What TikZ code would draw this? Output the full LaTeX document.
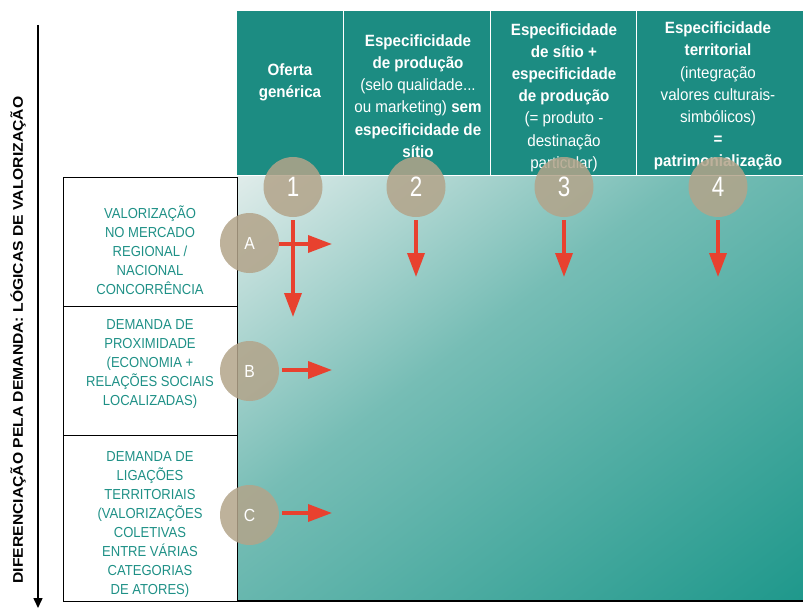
\documentclass[tikz,border=0pt]{standalone}
\usepackage{fontspec}
\usepackage{graphicx}
\setmainfont{Liberation Sans}
\newfontfamily\hdrfont[FakeStretch=0.93]{Liberation Sans}
\newfontfamily\rowfont[FakeStretch=0.9]{Liberation Sans}
\newfontfamily\numfont[FakeStretch=0.8]{Liberation Sans}
\usetikzlibrary{arrows.meta,shapes.geometric}
\definecolor{hdrteal}{HTML}{1C8C82}
\definecolor{rowteal}{HTML}{1E9086}
\definecolor{badgetan}{HTML}{B3A48A}
\definecolor{arrowred}{HTML}{E8412F}
% diagonal body gradient: top-left light -> bottom-right teal
\pgfdeclarefunctionalshading{bodyshade}{\pgfpoint{0bp}{0bp}}{\pgfpoint{100bp}{100bp}}{}{
  exch 25 sub exch 75 exch sub add 100 div
  dup 0 lt {pop 0} if dup 1 gt {pop 1} if
  dup 0.4 lt {
    0.4 div
    dup -0.415 mul 0.878 add exch
    dup -0.184 mul 0.925 add exch
    -0.208 mul 0.918 add
  }{
    0.4 sub 0.6 div
    dup -0.343 mul 0.463 add exch
    dup -0.145 mul 0.741 add exch
    -0.163 mul 0.710 add
  } ifelse
}
\tikzset{
  hcell/.style={anchor=north west, fill=hdrteal, draw=white, line width=1.2pt, inner sep=0pt},
  htext/.style={text=white, align=center, font=\hdrfont\fontsize{16.3}{22.2}\selectfont, inner sep=0pt},
  rowbox/.style={anchor=north west, draw=black, line width=1pt, minimum width=174pt, inner sep=0pt},
  rowtext/.style={text=rowteal, align=center, font=\rowfont\fontsize{14.5}{19}\selectfont, inner sep=0pt},
  badge/.style={ellipse, minimum width=59pt, minimum height=60pt, inner sep=0pt, fill=badgetan, fill opacity=0.85, text opacity=1, text=white},
  numbadge/.style={badge, font=\numfont\fontsize{28}{28}\selectfont},
  letbadge/.style={badge, font=\rowfont\fontsize{17.5}{17.5}\selectfont},
  redarrow/.style={draw=arrowred, line width=3.5pt, -{Triangle[length=24pt,width=17pt]}},
}
\begin{document}
\begin{tikzpicture}[x=1pt,y=-1pt]
\useasboundingbox (0,0) rectangle (803,610);
% header cells
\node[hcell, minimum width=107pt, minimum height=165pt] (c1) at (236,10) {};
\node[hcell, minimum width=147pt, minimum height=165pt] (c2) at (343,10) {};
\node[hcell, minimum width=146pt, minimum height=165pt] (c3) at (490,10) {};
\node[hcell, minimum width=167pt, minimum height=165pt] (c4) at (636,10) {};
\node[htext] (t1) at (290,82.5) {\textbf{Oferta}\\\textbf{genérica}};
\node[htext] (t2) at (418,96) {\textbf{Especificidade}\\\textbf{de produção}\\(selo qualidade...\\ou marketing) \textbf{sem}\\\textbf{especificidade de}\\\textbf{sítio}};
\node[htext] (t3) at (564,97.5) {\textbf{Especificidade}\\\textbf{de sítio +}\\\textbf{especificidade}\\\textbf{de produção}\\(= produto -\\destinação\\particular)};
\node[htext] (t4) at (718,96) {\textbf{Especificidade}\\\textbf{territorial}\\(integração\\valores culturais-\\simbólicos)\\\textbf{=}\\\textbf{patrimonialização}};
% body
\shade[shading=bodyshade] (237,176) rectangle (803,601);
\draw[black, line width=1.2pt] (237,601) -- (803,601);
% row boxes
\node[rowbox, minimum height=129pt] (rA) at (63,177) {};
\node[rowbox, minimum height=129pt] (rB) at (63,306) {};
\node[rowbox, minimum height=166pt] (rC) at (63,435) {};
\node[rowtext] (xA) at (150,250) {VALORIZAÇÃO\\NO MERCADO\\REGIONAL /\\NACIONAL\\CONCORRÊNCIA};
\node[rowtext] (xB) at (150,364) {DEMANDA DE\\PROXIMIDADE\\(ECONOMIA +\\RELAÇÕES SOCIAIS\\LOCALIZADAS)};
\node[rowtext] (xC) at (150,524.5) {DEMANDA DE\\LIGAÇÕES\\TERRITORIAIS\\(VALORIZAÇÕES\\COLETIVAS\\ENTRE VÁRIAS\\CATEGORIAS\\DE ATORES)};
% left axis
\coordinate (ltop) at (38,25);
\coordinate (lbot) at (38,608);
\draw[black, line width=1.5pt, -{Triangle[length=10pt,width=9pt]}] (ltop) -- (lbot);
\node[rotate=90, inner sep=0pt, font=\bfseries\fontsize{14}{14}\selectfont] (lbl) at (18,340) {\scalebox{1.12}[1]{DIFERENCIAÇÃO PELA DEMANDA: LÓGICAS DE VALORIZAÇÃO}};
% badges
\node[numbadge] (b1) at (293,187) {1};
\node[numbadge] (b2) at (416,187) {2};
\node[numbadge] (b3) at (564,187) {3};
\node[numbadge] (b4) at (718,187) {4};
\node[letbadge] (bA) at (249.5,243) {A};
\node[letbadge] (bB) at (249.5,371) {B};
\node[letbadge] (bC) at (249.5,515) {C};
% arrow ends
\coordinate (e1) at (293,317);
\coordinate (e2) at (416,277);
\coordinate (e3) at (564,277);
\coordinate (e4) at (718,277);
\coordinate (eA) at (332,244);
\coordinate (eB) at (332,370);
\coordinate (eC) at (332,513);
\draw[redarrow] ([yshift=-3pt]b1.south) -- (e1);
\draw[redarrow] ([yshift=-3pt]b2.south) -- (e2);
\draw[redarrow] ([yshift=-3pt]b3.south) -- (e3);
\draw[redarrow] ([yshift=-3pt]b4.south) -- (e4);
\draw[redarrow] (bA.east |- eA) -- (eA);
\draw[redarrow] ([xshift=3pt]bB.east |- eB) -- (eB);
\draw[redarrow] ([xshift=3pt]bC.east |- eC) -- (eC);
\end{tikzpicture}
\end{document}
